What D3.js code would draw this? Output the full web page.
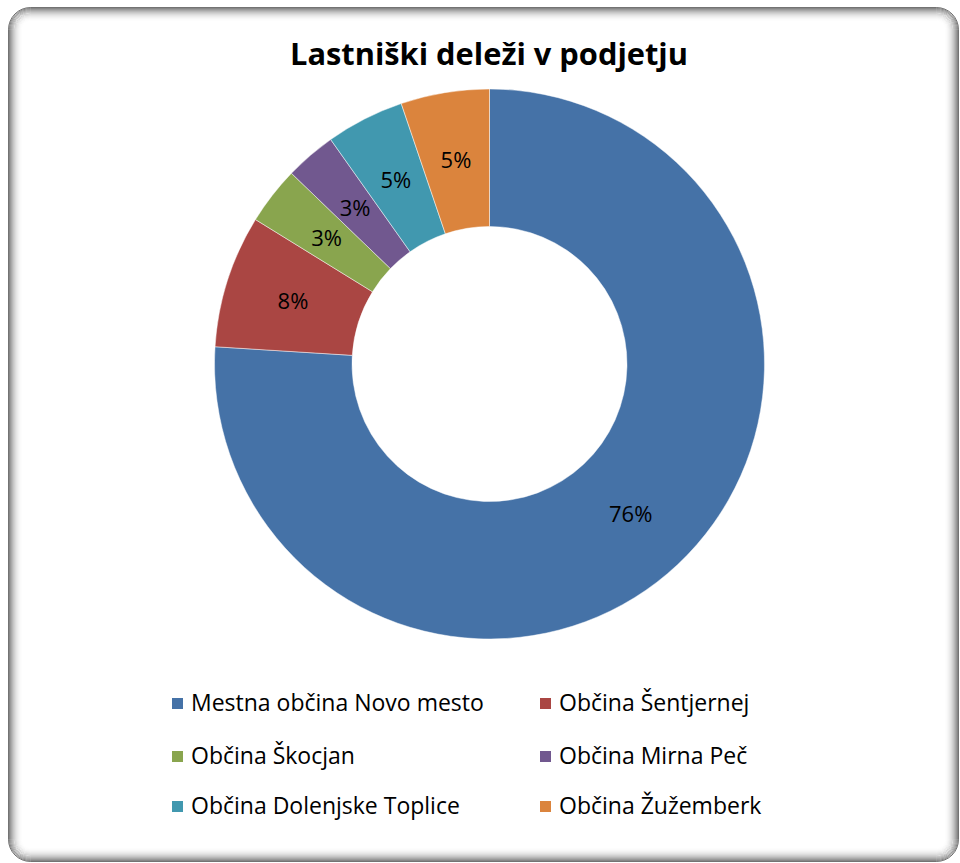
<!DOCTYPE html>
<html>
<head>
<meta charset="utf-8">
<script src="https://cdn.jsdelivr.net/npm/d3@7"></script>
<style>
  body { margin: 0; background: #fff; }
  svg { display: block; }
</style>
</head>
<body>
<div id="graf"></div>
<script>
// podatki
const naslov = 'Lastniški deleži v podjetju'
const obcine = [
  'Mestna občina Novo mesto',
  'Občina Šentjernej',
  'Občina Škocjan',
  'Občina Mirna Peč',
  'Občina Dolenjske Toplice',
  'Občina Žužemberk',
]
const delezi = [76.0, 7.8, 3.4, 3.0, 4.6, 5.2]
const barve = ['#4572A7', '#AA4643', '#89A54E', '#71588F', '#4198AF', '#DB843D']

const anchoTotal = 960
const altoTotal = 863

const svg = d3.select('#graf')
  .append('svg')
  .attr('width', anchoTotal)
  .attr('height', altoTotal)

// okvir s senco
const okvir = { x: 8, y: 7, w: 951, h: 855, r: 22 }
svg.append('rect')
  .attr('x', okvir.x).attr('y', okvir.y)
  .attr('width', okvir.w).attr('height', okvir.h)
  .attr('rx', okvir.r)
  .attr('fill', '#fff')

for (let i = 0; i < 15; i++) {
  svg.append('rect')
    .attr('x', okvir.x + i + 0.5).attr('y', okvir.y + i + 0.5)
    .attr('width', okvir.w - 2 * i - 1).attr('height', okvir.h - 2 * i - 1)
    .attr('rx', Math.max(okvir.r - i, 2))
    .attr('fill', 'none')
    .attr('stroke', '#000')
    .attr('stroke-opacity', 0.55 * Math.pow(1 - i / 15, 2.2))
}

svg.append('text')
  .attr('x', 489)
  .attr('y', 65)
  .attr('text-anchor', 'middle')
  .attr('font-family', 'Open Sans, sans-serif')
  .attr('font-weight', 'bold')
  .attr('font-size', 30.8)
  .attr('fill', '#000')
  .text(naslov)

const cx = 489.5
const cy = 364
const rOut = 275
const rIn = 137.5

const data = obcine.map((o, i) => ({ obcina: o, delez: delezi[i] }))
const skupaj = d3.sum(delezi)

const pie = d3.pie()
  .sort(null)
  .value(d => d.delez)

const arc = d3.arc()
  .innerRadius(rIn)
  .outerRadius(rOut)

const color = d3.scaleOrdinal()
  .domain(obcine)
  .range(barve)

const fmt = d3.format('.0%')

const g = svg.append('g')
  .attr('transform', `translate(${cx}, ${cy})`)

const kosi = pie(data)

g.selectAll('path')
  .data(kosi)
  .enter()
  .append('path')
  .attr('d', arc)
  .attr('fill', d => color(d.data.obcina))
  .attr('stroke', '#fff')
  .attr('stroke-opacity', 0.6)
  .attr('stroke-width', 0.8)

g.selectAll('text.oznaka')
  .data(kosi)
  .enter()
  .append('text')
  .attr('class', 'oznaka')
  .attr('x', d => arc.centroid(d)[0])
  .attr('y', d => arc.centroid(d)[1])
  .attr('dy', '0.36em')
  .attr('text-anchor', 'middle')
  .attr('font-family', 'Open Sans, sans-serif')
  .attr('font-size', 22)
  .attr('fill', '#000')
  .text(d => fmt(d.data.delez / skupaj))

// legenda
const legX = [172, 540]
const legY = [703, 756, 806]

const leg = svg.selectAll('g.leg')
  .data(obcine)
  .enter()
  .append('g')
  .attr('class', 'leg')
  .attr('transform', (d, i) => `translate(${legX[i % 2]}, ${legY[Math.floor(i / 2)]})`)

leg.append('rect')
  .attr('x', 0)
  .attr('y', -5)
  .attr('width', 11)
  .attr('height', 11)
  .attr('fill', d => color(d))

leg.append('text')
  .attr('x', 19)
  .attr('y', 0)
  .attr('dy', '0.36em')
  .attr('font-family', 'Open Sans, sans-serif')
  .attr('font-size', 23)
  .attr('fill', '#000')
  .text(d => d)
</script>
</body>
</html>
